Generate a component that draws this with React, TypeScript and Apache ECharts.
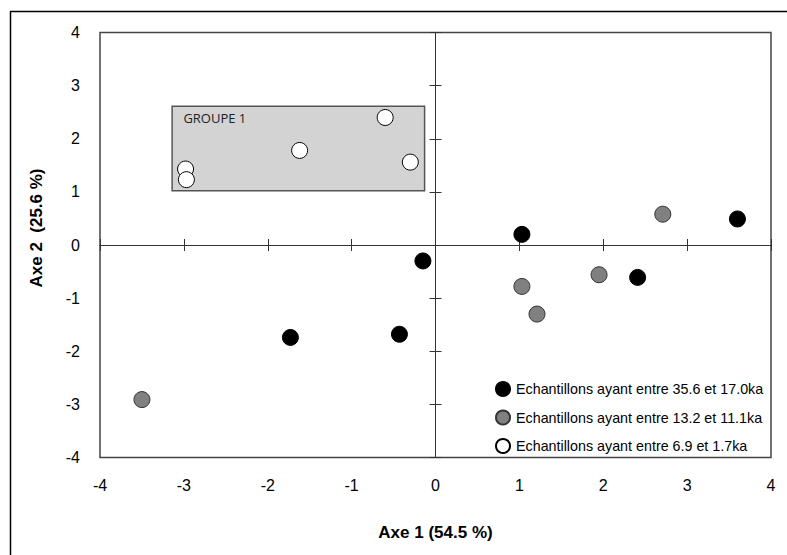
import React, { useEffect, useRef } from "react";
import * as echarts from "echarts";

const axisTicks = [-4, -3, -2, -1, 0, 1, 2, 3, 4];
const seriesNames = [
  "Echantillons ayant entre 35.6 et 17.0ka",
  "Echantillons ayant entre 13.2 et 11.1ka",
  "Echantillons ayant entre 6.9 et 1.7ka",
];
const oldSamples: [number, number][] = [
  [3.6, 0.49],
  [1.03, 0.2],
  [-0.15, -0.3],
  [2.41, -0.61],
  [-1.73, -1.74],
  [-0.43, -1.68],
];
const midSamples: [number, number][] = [
  [2.71, 0.58],
  [1.95, -0.56],
  [1.03, -0.78],
  [1.21, -1.3],
  [-3.5, -2.91],
];
const youngSamples: [number, number][] = [
  [-0.6, 2.4],
  [-1.62, 1.78],
  [-0.3, 1.56],
  [-2.98, 1.43],
  [-2.97, 1.23],
];
const groupName = "GROUPE 1";
const groupCorners: [number, number][] = [
  [-3.14, 2.61],
  [-0.13, 1.02],
];
const xTitle = "Axe 1 (54.5 %)";
const yTitle = "Axe 2  (25.6 %)";

const FONT = "'Liberation Sans', Arial, sans-serif";

export default function App() {
  const ref = useRef<HTMLDivElement>(null);
  useEffect(() => {
    if (!ref.current) return;
    const chart = echarts.init(ref.current, null, { renderer: "svg" });
    const amin = axisTicks[0];
    const amax = axisTicks[axisTicks.length - 1];
    const lineStyle = { color: "#333", width: 1 };
    const baseAxis = { type: "value", min: amin, max: amax, interval: 1, splitLine: { show: false } };
    const centerAxis = (inside: boolean, pos: string) => ({
      ...baseAxis,
      position: pos,
      axisLine: { show: true, onZero: true, onZeroAxisIndex: 0, lineStyle },
      axisTick: { show: true, inside, length: 6, lineStyle },
      axisLabel: { show: false },
    });
    const symbolBase = { type: "scatter", symbol: "circle", symbolSize: 16, xAxisIndex: 0, yAxisIndex: 0 };
    chart.setOption({
      animation: false,
      backgroundColor: "#fff",
      grid: {
        left: 100,
        right: 16,
        top: 32.5,
        bottom: 97.5,
        show: true,
        borderColor: "#444",
        borderWidth: 1.5,
        backgroundColor: "transparent",
      },
      xAxis: [
        {
          ...baseAxis,
          position: "bottom",
          axisLine: { show: false, onZero: false },
          axisTick: { show: false },
          axisLabel: { show: true, margin: 20, fontSize: 16, color: "#000", fontFamily: FONT },
          name: xTitle,
          nameLocation: "middle",
          nameGap: 66,
          nameTextStyle: { fontSize: 17, fontWeight: "bold", color: "#000", fontFamily: FONT },
        },
        centerAxis(false, "bottom"),
        centerAxis(true, "bottom"),
      ],
      yAxis: [
        {
          ...baseAxis,
          position: "left",
          axisLine: { show: false, onZero: false },
          axisTick: { show: false },
          axisLabel: { show: true, margin: 20, fontSize: 16, color: "#000", fontFamily: FONT },
        },
        centerAxis(false, "left"),
        centerAxis(true, "left"),
      ],
      legend: {
        orient: "vertical",
        left: 495,
        top: 381,
        padding: 0,
        itemWidth: 14,
        itemHeight: 14,
        itemGap: 12.5,
        icon: "circle",
        textStyle: { fontSize: 14.3, color: "#000", fontFamily: FONT, padding: [0, 0, 0, 1] },
        data: seriesNames,
      },
      graphic: [
        { type: "line", shape: { x1: 10, y1: 11.5, x2: 787, y2: 11.5 }, style: { stroke: "#000", lineWidth: 1.5 } },
        { type: "line", shape: { x1: 10.5, y1: 11, x2: 10.5, y2: 555 }, style: { stroke: "#000", lineWidth: 1.5 } },
        {
          type: "text",
          x: 36.7,
          y: 228,
          rotation: Math.PI / 2,
          style: {
            text: yTitle,
            font: `bold 17px ${FONT}`,
            fill: "#000",
            textAlign: "center",
            textVerticalAlign: "middle",
          },
        },
      ],
      series: [
        {
          ...symbolBase,
          name: seriesNames[0],
          data: oldSamples,
          itemStyle: { color: "#000", borderColor: "#000", borderWidth: 1, opacity: 1 },
        },
        {
          ...symbolBase,
          name: seriesNames[1],
          data: midSamples,
          itemStyle: { color: "#808080", borderColor: "#333", borderWidth: 1, opacity: 1 },
        },
        {
          ...symbolBase,
          name: seriesNames[2],
          data: youngSamples,
          itemStyle: { color: "#fff", borderColor: "#000", borderWidth: 1, opacity: 1 },
          markArea: {
            silent: true,
            itemStyle: { color: "#d3d3d3", borderColor: "#555", borderWidth: 1.5, opacity: 1 },
            label: {
              show: true,
              position: [12, 6],
              fontSize: 13,
              color: "#222",
              fontFamily: "'Open Sans', sans-serif",
            },
            data: [
              [
                { name: groupName, coord: groupCorners[0] },
                { coord: groupCorners[1] },
              ],
            ],
          },
        },
      ],
    });
    return () => chart.dispose();
  }, []);
  return (
    <div
      ref={ref}
      style={{ position: "fixed", left: 0, top: 0, width: 787, height: 555 }}
    />
  );
}
